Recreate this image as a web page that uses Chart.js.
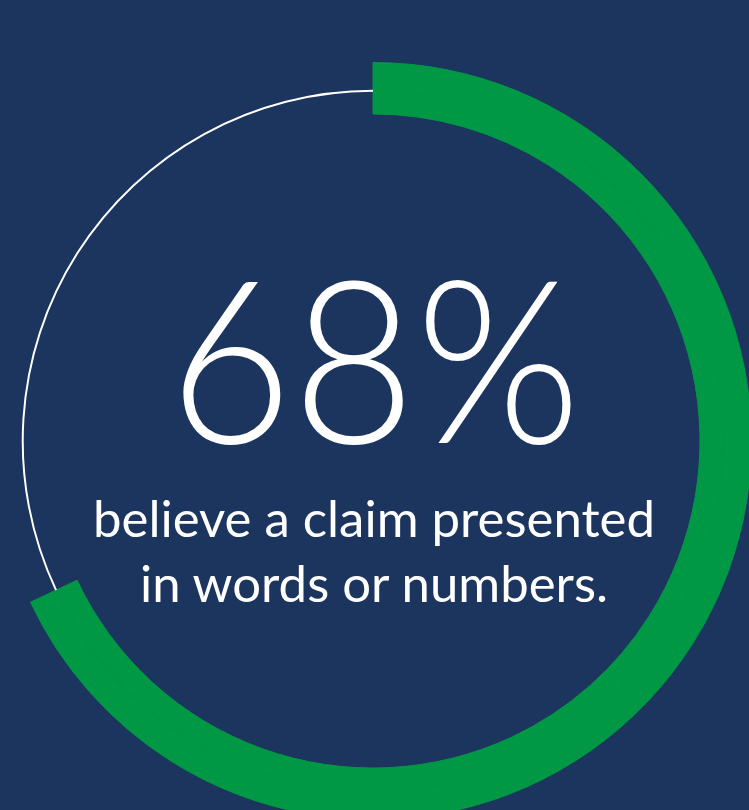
<!DOCTYPE html>
<html>
<head>
<meta charset="utf-8">
<script src="https://cdn.jsdelivr.net/npm/chart.js@4"></script>
<style>
  html, body { margin: 0; padding: 0; width: 749px; height: 810px; overflow: hidden; background: #1c355e; }
  #wrap { position: absolute; left: -6px; top: 62px; width: 758px; height: 758px; }
  #overlay { position: absolute; left: 0; top: 0; width: 749px; height: 810px; pointer-events: none; }
</style>
</head>
<body>
<div id="wrap"><canvas id="c" width="758" height="758"></canvas></div>
<svg id="overlay" width="749" height="810" xmlns="http://www.w3.org/2000/svg"></svg>
<script>
// ---- data ----
const categories = ['Believe the claim', 'Do not'];
const shareValues = [68, 32];
const headline = '68%';
const subtitleLines = ['believe a claim presented', 'in words or numbers.'];

// ---- colours ----
const GREEN = '#009845';
const BG = '#1c355e';
const WHITE = '#ffffff';

const ringBand = (fillRest, weight) => ({
  data: shareValues,
  backgroundColor: [GREEN, fillRest],
  borderColor: [GREEN, 'rgba(0,0,0,0)'],
  borderWidth: [1, 0],
  weight: weight
});

new Chart(document.getElementById('c'), {
  type: 'doughnut',
  data: {
    labels: categories,
    datasets: [
      ringBand('rgba(0,0,0,0)', 27.5),
      ringBand(WHITE, 2),
      ringBand('rgba(0,0,0,0)', 22.5)
    ]
  },
  options: {
    responsive: false,
    animation: false,
    cutout: 327,
    rotation: 0,
    circumference: 360,
    layout: { padding: 0 },
    plugins: { legend: { display: false }, tooltip: { enabled: false } }
  }
});

// ---- text overlay (real text) ----
const svg = document.getElementById('overlay');
function addText(str, x, y, size, weight, len) {
  const t = document.createElementNS('http://www.w3.org/2000/svg', 'text');
  t.setAttribute('x', x);
  t.setAttribute('y', y);
  t.setAttribute('text-anchor', 'middle');
  t.setAttribute('fill', WHITE);
  t.setAttribute('font-family', 'Lato, "Open Sans", sans-serif');
  t.setAttribute('font-size', size);
  t.setAttribute('font-weight', weight);
  t.setAttribute('textLength', len);
  t.setAttribute('lengthAdjust', 'spacingAndGlyphs');
  t.textContent = str;
  svg.appendChild(t);
}
addText(headline, 375, 443, 228, 300, 412);
addText(subtitleLines[0], 374, 537, 50, 400, 562);
addText(subtitleLines[1], 374, 602, 50, 400, 468);
</script>
</body>
</html>
